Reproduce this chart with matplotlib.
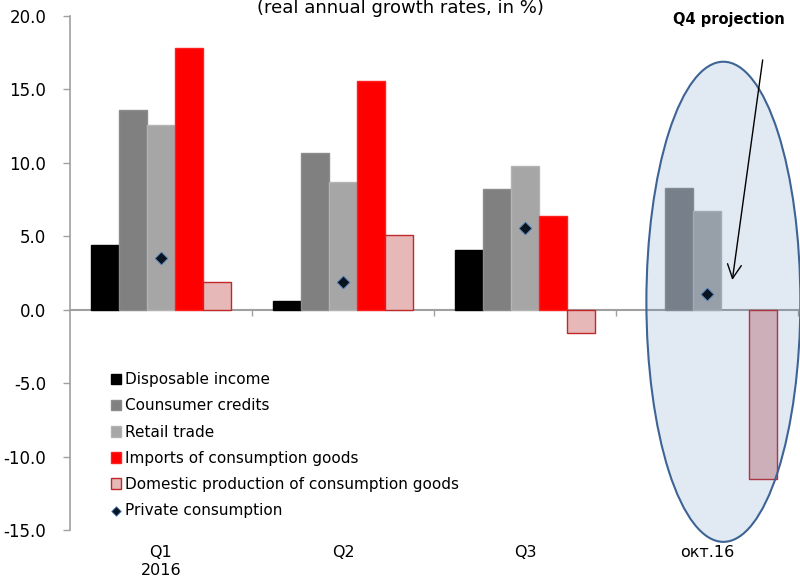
import numpy as np
import matplotlib
matplotlib.use("Agg")
import matplotlib.pyplot as plt
from matplotlib.patches import Ellipse

periods = ["Q1\n2016", "Q2", "Q3", "окт.16"]

disposable_income = [4.4, 0.6, 4.1, np.nan]
consumer_credits = [13.6, 10.7, 8.2, 8.3]
retail_trade = [12.6, 8.7, 9.8, 6.7]
imports_goods = [17.8, 15.6, 6.4, np.nan]
domestic_production = [1.9, 5.1, -1.6, -11.5]
private_consumption = [3.5, 1.9, 5.6, 1.1]

series = [
    ("Disposable income", disposable_income, "#000000", "#000000"),
    ("Counsumer credits", consumer_credits, "#808080", "#8c8c8c"),
    ("Retail trade", retail_trade, "#a6a6a6", "#b4b4b4"),
    ("Imports of consumption goods", imports_goods, "#ff0000", "#ff2020"),
    ("Domestic production of consumption goods", domestic_production, "#e6b9b8", "#c0282a"),
]

plt.rcParams["font.family"] = "DejaVu Sans"

fig = plt.figure(figsize=(8, 5.84), dpi=100)
ax = fig.add_axes([0.0875, 0.0925, 0.91, 0.88])

x = np.arange(len(periods))
w = 0.153
handles = []
for i, (name, vals, color, edge) in enumerate(series):
    bc = ax.bar(x + (i - 2) * w, vals, width=w, color=color, edgecolor=edge,
                linewidth=1, label=name, zorder=2)
    handles.append(bc)

sc = ax.scatter(x + 0 * w, private_consumption, marker="D", s=42, color="#0a1420",
                edgecolors="#4f81bd", linewidths=0.6, zorder=5,
                label="Private consumption")
handles.append(sc)

# highlight for the projected quarter
ell = Ellipse((3.09, 0.54), 0.846, 32.7, facecolor=(79/255, 128/255, 188/255, 0.17),
              edgecolor="#3d6495", linewidth=1.5, zorder=3, clip_on=False)
ax.add_patch(ell)

ax.set_xlim(-0.5, 3.5)
ax.set_ylim(-15, 20)
ax.set_yticks(np.arange(-15, 21, 5))
ax.set_yticklabels([f"{v:.1f}" for v in np.arange(-15, 21, 5)], fontsize=12)
ax.set_xticks(x)
ax.set_xticklabels(periods, fontsize=11.5)
ax.tick_params(axis="x", length=0, pad=11)
ax.tick_params(axis="y", length=5, color="#a0a0a0", width=1, pad=12)

for s in ["top", "right", "bottom"]:
    ax.spines[s].set_visible(False)
ax.spines["left"].set_color("#a0a0a0")
ax.spines["left"].set_linewidth(1.2)

# zero line with group separators
zero_ax = ax.secondary_xaxis(15 / 35)
zero_ax.set_xticks([0.5, 1.5, 2.5, 3.5])
zero_ax.set_xticklabels([])
zero_ax.tick_params(length=4, color="#a0a0a0", width=1, direction="out")
zero_ax.spines["bottom"].set_color("#a0a0a0")
zero_ax.spines["bottom"].set_linewidth(1.5)
zero_ax.spines["bottom"].set_zorder(4)

ax.legend(handles=handles, loc="upper left", bbox_to_anchor=(0.056, 0.307),
          frameon=False, fontsize=11, handlelength=0.7, handleheight=0.7,
          handletextpad=0.25, labelspacing=0.73, borderpad=0,
          borderaxespad=0, markerscale=0.75)

fig.text(0.501, 0.978, "(real annual growth rates, in %)", ha="center",
         va="baseline", fontsize=13)

ax.text(3.12, 19.74, "Q4 projection", ha="center", va="center",
        fontsize=10.5, fontweight="bold")
ax.annotate("", xy=(3.137, 1.84), xytext=(3.308, 17.2),
            arrowprops=dict(arrowstyle="->,head_length=0.5,head_width=0.25",
                            color="black", lw=1, mutation_scale=20),
            zorder=6)

fig.savefig("out.png", dpi=100)
